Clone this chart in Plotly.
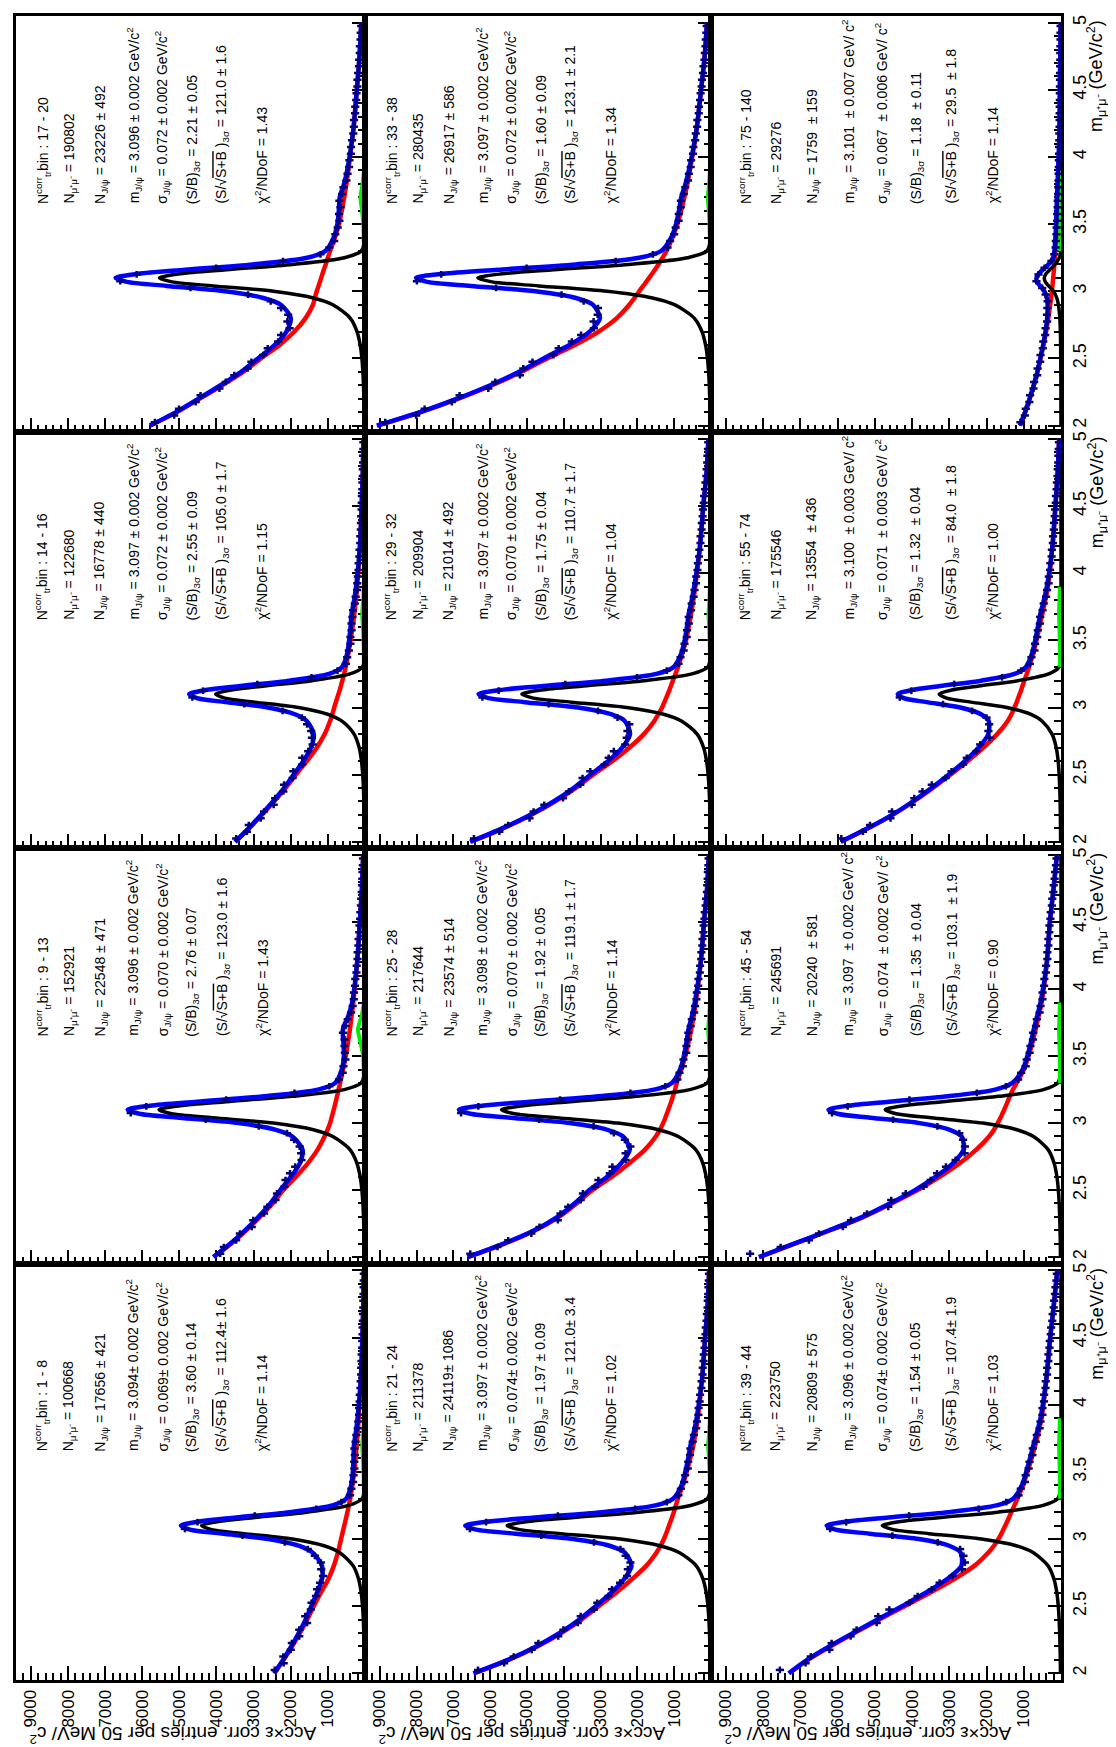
import plotly.graph_objects as go

# ---------------- shared mass grids (GeV/c^2) ----------------
CURVE_MASS = [2.0, 2.1, 2.2, 2.3, 2.4, 2.5, 2.6, 2.7, 2.8, 2.9,
              2.95, 3.0, 3.04, 3.07, 3.1, 3.13, 3.16, 3.2, 3.25, 3.3,
              3.4, 3.5, 3.6, 3.7, 3.8, 3.9, 4.2, 4.5, 4.75, 5.0]
PSI_MASS = [3.3, 3.4, 3.5, 3.6, 3.7, 3.8, 3.9]
BIN_CENTERS = [2.025, 2.075, 2.125, 2.175, 2.225, 2.275, 2.325, 2.375, 2.425, 2.475,
               2.525, 2.575, 2.625, 2.675, 2.725, 2.775, 2.825, 2.875, 2.925, 2.975,
               3.025, 3.075, 3.125, 3.175, 3.225, 3.275, 3.325, 3.375, 3.425, 3.475,
               3.525, 3.575, 3.625, 3.675, 3.725, 3.775, 3.825, 3.875, 3.925, 3.975,
               4.025, 4.075, 4.125, 4.175, 4.225, 4.275, 4.325, 4.375, 4.425, 4.475,
               4.525, 4.575, 4.625, 4.675, 4.725, 4.775, 4.825, 4.875, 4.925, 4.975]

COUNT_TICKS = [1000, 2000, 3000, 4000, 5000, 6000, 7000, 8000, 9000]

# ---------------- bin 17-20 ----------------
DATA_17_20 = [5660,5140,5010,4560,4430,3920,3750,3520,3160,3060,2740,2620,2340,2260,2030,2090,2070,2260,2540,3150,
              4700,6590,6150,4010,2210,1200,960,830,800,735,690,700,660,690,615,580,500,470,430,420,
              380,375,350,315,300,297,266,262,237,228,206,202,184,163,157,140,137,120,115,102]
BKG_17_20 = [5780,5070,4450,3850,3280,2800,2300,1900,1600,1400,1350,1300,1250,1215,1180,1145,1110,1060,1000,940,
             810,700,626,560,500,450,315,220,148,100]
SIG_17_20 = [17,22,31,41,57,84,129,215,400,866,1388,2464,4096,5200,5539,4967,3735,1959,555,100,0,0,0,0,0,0,0,0,0,0]
PSI_17_20 = [30,35,45,80,120,65,30]
TXT_17_20 = ["17 - 20", "190802", "23226 ± 492", "3.096 ± 0.002", "0.072 ± 0.002", "2.21 ± 0.05", "121.0 ± 1.6", "1.43"]

# ---------------- bin 14-16 ----------------
DATA_14_16 = [3470,3180,3130,2810,2720,2460,2420,2200,2180,1950,1930,1690,1690,1530,1410,1430,1450,1560,1700,2220,
              3250,4650,4360,2900,1440,740,515,480,435,393,392,362,362,339,321,274,251,212,208,191,
              174,170,152,146,129,127,113,109,104,92,87,83,73,70,61,59,52,51,45,43]
BKG_14_16 = [3490,3120,2780,2450,2140,1860,1570,1300,1090,940,880,830,785,750,715,682,650,610,563,520,
             450,390,335,286,245,210,136,90,60,40]
SIG_14_16 = [12,16,22,30,42,61,94,156,290,629,1008,1789,2974,3776,4022,3607,2712,1423,403,73,0,0,0,0,0,0,0,0,0,0]
PSI_14_16 = [30,32,38,55,75,48,30]
TXT_14_16 = ["14 - 16", "122680", "16778 ± 440", "3.097 ± 0.002", "0.072 ± 0.002", "2.55 ± 0.09", "105.0 ± 1.7", "1.15"]

# ---------------- bin 9-13 ----------------
DATA_9_13 = [3900,3800,3470,3370,3050,3010,2720,2630,2410,2370,2170,2140,2020,1880,1710,1720,1760,1910,2100,2860,
             4290,6310,5890,3740,1900,960,700,600,580,527,541,551,551,594,523,465,375,331,302,297,
             270,261,231,223,202,198,177,173,155,147,131,126,110,103,88,82,72,68,58,54]
BKG_9_13 = [4070,3610,3200,2830,2490,2200,1860,1540,1280,1090,1010,940,900,870,843,815,788,753,710,670,
            590,520,460,406,360,317,212,140,84,50]
SIG_9_13 = [17,22,31,41,57,84,130,216,400,867,1390,2469,4103,5210,5549,4976,3742,1963,556,100,0,0,0,0,0,0,0,0,0,0]
PSI_9_13 = [30,35,50,120,190,90,30]
TXT_9_13 = ["9 - 13", "152921", "22548 ± 471", "3.096 ± 0.002", "0.070 ± 0.002", "2.76 ± 0.07", "123.0 ± 1.6", "1.43"]

# ---------------- bin 1-8 ----------------
DATA_1_8 = [2430,2190,2200,2000,1970,1770,1770,1560,1610,1460,1440,1320,1290,1210,1130,1180,1190,1350,1540,2160,
            3300,4850,4510,2970,1310,635,403,367,321,309,286,289,273,285,254,234,195,181,161,159,
            143,140,123,117,105,103,94,89,78,74,67,64,57,54,47,45,40,39,34,32]
BKG_1_8 = [2440,2190,1964,1752,1555,1380,1190,990,840,730,685,645,610,585,558,532,507,475,436,400,
           341,290,254,223,195,171,111,70,46,30]
SIG_1_8 = [13,18,24,33,45,67,103,171,318,688,1103,1958,3255,4132,4401,3947,2968,1557,441,79,0,0,0,0,0,0,0,0,0,0]
PSI_1_8 = [30,32,38,55,75,48,30]
TXT_1_8 = ["1 - 8", "100668", "17656 ± 421", "3.094± 0.002", "0.069± 0.002", "3.60 ± 0.14", "112.4± 1.6", "1.14"]

# ---------------- bin 33-38 ----------------
DATA_33_38 = [8850,8010,7780,7040,6830,6050,5860,5190,5100,4850,4280,4140,3780,3530,3180,3190,3080,3070,3460,4060,
              5840,7990,7330,5010,2590,1580,1180,1110,1000,960,880,875,820,818,738,699,624,602,552,540,
              489,478,430,414,377,371,333,328,298,283,255,246,218,204,179,168,150,143,127,117]
BKG_33_38 = [9060,7880,6860,5950,5150,4450,3700,3050,2560,2220,2080,1950,1840,1760,1680,1600,1525,1428,1315,1210,
             1049,910,812,722,642,573,395,270,172,110]
SIG_33_38 = [19,25,35,47,65,96,148,246,457,991,1588,2819,4686,5950,6337,5683,4274,2242,635,114,0,0,0,0,0,0,0,0,0,0]
PSI_33_38 = [30,33,40,60,85,52,30]
TXT_33_38 = ["33 - 38", "280435", "26917 ± 586", "3.097 ± 0.002", "0.072 ± 0.002", "1.60 ± 0.09", "123.1 ± 2.1", "1.34"]

# ---------------- bin 29-32 ----------------
DATA_29_32 = [6440,5750,5510,4930,4820,4530,4020,3860,3550,3490,3280,2890,2780,2640,2330,2290,2270,2220,2540,3070,
              4410,6210,5770,3960,2010,1200,883,828,742,720,660,651,603,605,541,525,470,449,408,403,
              367,357,325,317,286,284,255,250,228,219,197,187,162,151,127,118,104,98,83,76]
BKG_29_32 = [6530,5650,4890,4240,3680,3200,2680,2220,1830,1540,1430,1330,1265,1220,1175,1130,1090,1035,966,900,
             782,680,605,539,480,427,300,210,121,70]
SIG_29_32 = [15,21,28,38,53,78,120,200,371,803,1288,2287,3801,4826,5140,4609,3466,1818,515,93,0,0,0,0,0,0,0,0,0,0]
PSI_29_32 = [30,31,36,50,65,44,30]
TXT_29_32 = ["29 - 32", "209904", "21014 ± 492", "3.097 ± 0.002", "0.070 ± 0.002", "1.75 ± 0.04", "110.7 ± 1.7", "1.04"]

# ---------------- bin 25-28 ----------------
DATA_25_28 = [6540,5800,5510,4880,4660,4160,4090,3880,3540,3480,3150,3060,2750,2680,2320,2320,2190,2340,2640,3190,
              4670,6790,6320,4100,2190,1240,914,855,764,749,673,667,622,617,552,522,456,435,396,386,
              349,341,303,296,267,262,237,232,208,199,178,169,146,135,112,104,91,86,72,66]
BKG_25_28 = [6600,5610,4770,4130,3650,3220,2690,2220,1800,1500,1390,1300,1240,1200,1160,1120,1080,1035,975,930,
             807,700,615,537,470,411,279,190,107,60]
SIG_25_28 = [17,23,31,42,59,86,133,221,410,889,1425,2531,4207,5341,5689,5102,3836,2012,570,103,0,0,0,0,0,0,0,0,0,0]
PSI_25_28 = [30,32,38,55,75,48,30]
TXT_25_28 = ["25 - 28", "217644", "23574 ± 514", "3.098 ± 0.002", "0.070 ± 0.002", "1.92 ± 0.05", "119.1 ± 1.7", "1.14"]

# ---------------- bin 21-24 ----------------
DATA_21_24 = [6330,5620,5360,4870,4690,4150,4010,3620,3540,3180,3090,2790,2690,2470,2280,2260,2190,2320,2460,3180,
              4610,6550,6110,4160,2060,1200,883,819,728,702,631,619,571,560,497,465,403,381,343,337,
              307,296,262,255,228,224,203,197,176,169,150,142,122,113,95,88,76,71,60,55]
BKG_21_24 = [6440,5500,4720,4070,3520,3050,2580,2150,1760,1480,1370,1280,1220,1180,1140,1100,1060,1010,955,900,
             770,660,565,480,415,360,240,160,90,50]
SIG_21_24 = [17,22,31,41,57,84,129,215,400,866,1388,2464,4096,5200,5539,4967,3735,1959,555,100,0,0,0,0,0,0,0,0,0,0]
PSI_21_24 = [30,32,38,55,75,48,30]
TXT_21_24 = ["21 - 24", "211378", "24119± 1086", "3.097 ± 0.002", "0.074± 0.002", "1.97 ± 0.09", "121.0± 3.4", "1.02"]

# ---------------- bin 75-140 ----------------
DATA_75_140 = [1090,970,945,850,830,740,720,640,628,560,550,488,476,424,413,373,376,366,358,412,
               505,660,605,442,257,182,144,138,122,117,104,101,90,86,75,73,66,63,58,58,
               53,52,47,46,38,38,35,35,31,31,29,27,25,23,21,19,17,15,13,11]
BKG_75_140 = [1100,960,840,730,630,550,470,400,340,290,265,245,230,220,210,200,190,180,165,150,
              130,110,95,80,70,60,40,30,20,10]
SIG_75_140 = [1,2,2,3,5,7,10,17,32,70,113,200,332,422,449,403,303,159,45,8,0,0,0,0,0,0,0,0,0,0]
PSI_75_140 = [20,20,22,26,30,24,20]
TXT_75_140 = ["75 - 140", "29276", "1759 \u00a0± 159", "3.101 \u00a0± 0.007", "0.067 \u00a0± 0.006",
              "1.18 \u00a0± 0.11", "29.5 \u00a0± 1.8", "1.14"]

# ---------------- bin 55-74 ----------------
DATA_55_74 = [5900,5320,5130,4580,4540,4010,3940,3720,3470,3100,2940,2630,2530,2270,2170,1920,1950,1930,2000,2390,
              3170,4330,4020,2870,1580,1070,836,794,713,697,639,622,568,559,495,464,401,375,333,326,
              294,286,252,245,219,214,193,187,167,159,141,135,118,110,94,88,76,71,60,55]
BKG_55_74 = [5910,5180,4520,3960,3450,2970,2510,2090,1720,1430,1330,1250,1190,1150,1110,1070,1035,985,920,860,
             750,660,580,500,420,350,230,150,90,50]
SIG_55_74 = [10,13,18,24,34,50,76,127,236,512,820,1456,2421,3073,3273,2936,2207,1158,328,59,0,0,0,0,0,0,0,0,0,0]
PSI_55_74 = [30,31,34,42,52,40,30]
TXT_55_74 = ["55 - 74", "175546", "13554 \u00a0± 436", "3.100 \u00a0± 0.003", "0.071 \u00a0± 0.003",
             "1.32 \u00a0± 0.04", "84.0 \u00a0± 1.8", "1.00"]

# ---------------- bin 45-54 ----------------
DATA_45_54 = [8350,7530,6770,6500,5860,5640,5210,4640,4560,4170,3690,3500,3330,3090,2830,2590,2580,2630,2730,3320,
              4510,6150,5730,4070,2260,1480,1150,1070,949,921,842,821,753,746,671,648,574,551,498,495,
              453,447,407,400,366,367,340,340,314,310,284,276,245,235,206,195,170,158,134,121]
BKG_45_54 = [8100,7150,6200,5300,4550,3850,3250,2720,2280,1930,1800,1700,1625,1575,1525,1478,1432,1372,1292,1190,
             1000,870,770,680,600,520,380,300,200,110]
SIG_45_54 = [14,19,26,35,49,71,110,184,341,738,1183,2100,3491,4432,4721,4233,3183,1670,473,85,0,0,0,0,0,0,0,0,0,0]
PSI_45_54 = [30,31,34,42,52,40,30]
TXT_45_54 = ["45 - 54", "245691", "20240 \u00a0± 581", "3.097 \u00a0± 0.002", "0.074 \u00a0± 0.002",
             "1.35 \u00a0± 0.04", "103.1 \u00a0± 1.9", "0.90"]

# ---------------- bin 39-44 ----------------
DATA_39_44 = [7550,6860,6720,6220,6160,5650,5490,4950,4910,4610,4070,3850,3470,3260,2910,2660,2580,2620,2710,3310,
              4530,6200,5770,4080,2210,1470,1140,1080,970,949,869,845,769,758,679,650,574,551,499,498,
              457,453,415,409,374,372,341,339,309,301,274,265,235,224,196,185,160,148,124,111]
BKG_39_44 = [7300,6800,6200,5550,4880,4200,3520,2880,2330,1950,1800,1680,1600,1550,1495,1445,1395,1333,1252,1170,
             1020,900,790,690,600,520,390,290,190,100]
SIG_39_44 = [14,19,26,36,50,73,112,187,346,750,1203,2136,3550,4507,4800,4305,3237,1698,481,87,0,0,0,0,0,0,0,0,0,0]
PSI_39_44 = [30,31,34,42,52,40,30]
TXT_39_44 = ["39 - 44", "223750", "20809 ± 575", "3.096 ± 0.002", "0.074± 0.002", "1.54 ± 0.05", "107.4± 1.9", "1.03"]

# (row, col, data, bkg, sig, psi, text, unit)
PANELS = [
    (0, 0, DATA_17_20, BKG_17_20, SIG_17_20, PSI_17_20, TXT_17_20, "GeV/c"),
    (0, 1, DATA_33_38, BKG_33_38, SIG_33_38, PSI_33_38, TXT_33_38, "GeV/c"),
    (0, 2, DATA_75_140, BKG_75_140, SIG_75_140, PSI_75_140, TXT_75_140, "GeV/ c"),
    (1, 0, DATA_14_16, BKG_14_16, SIG_14_16, PSI_14_16, TXT_14_16, "GeV/c"),
    (1, 1, DATA_29_32, BKG_29_32, SIG_29_32, PSI_29_32, TXT_29_32, "GeV/c"),
    (1, 2, DATA_55_74, BKG_55_74, SIG_55_74, PSI_55_74, TXT_55_74, "GeV/ c"),
    (2, 0, DATA_9_13, BKG_9_13, SIG_9_13, PSI_9_13, TXT_9_13, "GeV/c"),
    (2, 1, DATA_25_28, BKG_25_28, SIG_25_28, PSI_25_28, TXT_25_28, "GeV/c"),
    (2, 2, DATA_45_54, BKG_45_54, SIG_45_54, PSI_45_54, TXT_45_54, "GeV/ c"),
    (3, 0, DATA_1_8, BKG_1_8, SIG_1_8, PSI_1_8, TXT_1_8, "GeV/c"),
    (3, 1, DATA_21_24, BKG_21_24, SIG_21_24, PSI_21_24, TXT_21_24, "GeV/c"),
    (3, 2, DATA_39_44, BKG_39_44, SIG_39_44, PSI_39_44, TXT_39_44, "GeV/c"),
]

# ---------------- layout geometry (pixels) ----------------
W, H = 1116, 1747
ML, MR, MT, MB = 5, 63, 5, 75
COL_PX = [(5, 355), (355, 702), (702, 1053)]
ROW_PX = [(5, 422), (422, 839), (839, 1255), (1255, 1672)]
TEXT_DX = [[27, 54, 85, 118, 147, 177, 207, 246],
           [27, 54, 85, 118, 147, 177, 207, 246],
           [35, 66, 102, 138, 172, 206, 242, 282]]
FONT = "Liberation Sans, Arial, Helvetica, sans-serif"
NAVY = "#00007a"


def px_x(px):
    return (px - ML) / (W - ML - MR)


def px_y(py):
    return (H - MB - py) / (H - MT - MB)


def total_curve(bkg, sig, psi):
    out = []
    for m, b, s in zip(CURVE_MASS, bkg, sig):
        p = psi[PSI_MASS.index(m)] if m in PSI_MASS else 0
        out.append(b + s + p)
    return out


fig = go.Figure()
annotations = []
layout_axes = {}

for i, (r, c, data, bkg, sig, psi, txt, unit) in enumerate(PANELS):
    n = i + 1
    xs = "x" if n == 1 else f"x{n}"
    ys = "y" if n == 1 else f"y{n}"
    xk = "xaxis" if n == 1 else f"xaxis{n}"
    yk = "yaxis" if n == 1 else f"yaxis{n}"
    c0, c1 = COL_PX[c]
    r0, r1 = ROW_PX[r]

    layout_axes[xk] = dict(
        domain=[px_x(c0), px_x(c1)], range=[9400, 0], anchor=ys,
        showline=True, linecolor="black", linewidth=3, mirror=True,
        ticks="inside", ticklen=14, tickwidth=2, tickcolor="black",
        tickmode="array", tickvals=COUNT_TICKS,
        showticklabels=(r == 3), tickangle=-90,
        tickfont=dict(size=17, family=FONT, color="black"),
        minor=dict(tickmode="linear", tick0=0, dtick=200, ticks="inside",
                   ticklen=7, tickwidth=2, tickcolor="black"),
        showgrid=False, zeroline=False, layer="below traces", fixedrange=True)
    layout_axes[yk] = dict(
        domain=[px_y(r1), px_y(r0)], range=[1.95, 5.05], anchor=xs, side="right",
        showline=True, linecolor="black", linewidth=3, mirror=True,
        ticks="inside", ticklen=13, tickwidth=2, tickcolor="black",
        tick0=2, dtick=0.5, showticklabels=(c == 2), tickangle=-90,
        tickfont=dict(size=18, family=FONT, color="black"),
        minor=dict(tickmode="linear", tick0=2, dtick=0.1, ticks="inside",
                   ticklen=7, tickwidth=2, tickcolor="black"),
        showgrid=False, zeroline=False, layer="below traces", fixedrange=True)

    tot = total_curve(bkg, sig, psi)
    fig.add_trace(go.Scatter(x=bkg, y=CURVE_MASS, xaxis=xs, yaxis=ys, mode="lines",
                             line=dict(color="#ff0000", width=4.5, shape="spline", smoothing=0.8),
                             hoverinfo="skip"))
    fig.add_trace(go.Scatter(x=sig, y=CURVE_MASS, xaxis=xs, yaxis=ys, mode="lines",
                             line=dict(color="black", width=3.5, shape="spline", smoothing=0.8),
                             hoverinfo="skip"))
    fig.add_trace(go.Scatter(x=psi, y=PSI_MASS, xaxis=xs, yaxis=ys, mode="lines",
                             line=dict(color="#00ee00", width=4, shape="spline", smoothing=0.8),
                             hoverinfo="skip"))
    fig.add_trace(go.Scatter(x=tot, y=CURVE_MASS, xaxis=xs, yaxis=ys, mode="lines",
                             line=dict(color="#0000ff", width=4.5, shape="spline", smoothing=0.8),
                             hoverinfo="skip"))
    fig.add_trace(go.Scatter(x=data, y=BIN_CENTERS, xaxis=xs, yaxis=ys, mode="markers",
                             marker=dict(size=2, color=NAVY),
                             error_x=dict(type="constant", value=110, color=NAVY, thickness=2.5, width=0),
                             error_y=dict(type="constant", value=0.025, color=NAVY, thickness=2.5, width=0),
                             hoverinfo="skip"))

    lines = [
        f"N<sup>corr</sup><sub>tr</sub>bin : {txt[0]}",
        f"N<sub>μ⁺μ⁻</sub> = {txt[1]}",
        f"N<sub>J/ψ</sub> = {txt[2]}",
        f"m<sub>J/ψ</sub> = {txt[3]} {unit}<sup>2</sup>",
        f"σ<sub>J/ψ</sub> = {txt[4]} {unit}<sup>2</sup>",
        f"(S/B)<sub>3σ</sub> = {txt[5]}",
        f"(S/√<span style='text-decoration:overline'>S+B</span> )<sub>3σ</sub> = {txt[6]}",
        f"χ<sup>2</sup>/NDoF = {txt[7]}",
    ]
    for j, t in enumerate(lines):
        annotations.append(dict(
            x=px_x(c0 + TEXT_DX[c][j]), y=px_y(r0 + 190), xref="paper", yref="paper",
            text=t, textangle=-90, xanchor="center", yanchor="bottom", showarrow=False,
            font=dict(size=14, family=FONT, color="black")))

    if c == 2:
        annotations.append(dict(
            x=px_x(1089), y=px_y(r0 + 2), xref="paper", yref="paper",
            text="m<sub>μ⁺μ⁻</sub> (GeV/c<sup>2</sup>)", textangle=-90,
            xanchor="center", yanchor="top", showarrow=False,
            font=dict(size=18, family=FONT, color="black")))
    if r == 3:
        annotations.append(dict(
            x=px_x(c0 + 303), y=px_y(1727), xref="paper", yref="paper",
            text="Acc×ε corr. entries per 50 MeV/ c<sup>2</sup>", textangle=180,
            xanchor="right", yanchor="middle", showarrow=False,
            font=dict(size=19, family=FONT, color="black")))

fig.update_layout(
    width=W, height=H,
    margin=dict(l=ML, r=MR, t=MT, b=MB),
    paper_bgcolor="white", plot_bgcolor="white",
    showlegend=False, annotations=annotations,
    **layout_axes)

fig.write_html("out.html")
